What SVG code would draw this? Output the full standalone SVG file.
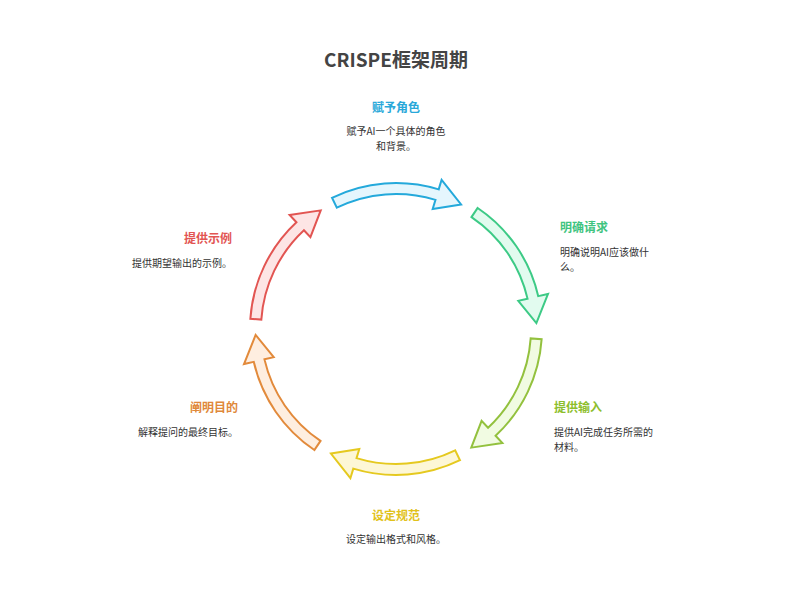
<svg xmlns="http://www.w3.org/2000/svg" xmlns:xlink="http://www.w3.org/1999/xlink" width="792" height="612" viewBox="0 0 792 612">
<style>
text{font-family:"Noto Sans CJK SC","Noto Sans",sans-serif;}
.main{font-size:19px;font-weight:bold;fill:#444;}
.t{font-size:12px;font-weight:bold;}
.d{font-size:10px;fill:#333;}
.arr{stroke-width:2;stroke-linejoin:miter;}
</style>
<defs>
<path id="arrow" d="M -64.00,-131.22 A 146 146 0 0 1 42.69,-139.62 L 45.61,-149.18 L 65.09,-124.51 L 36.69,-120.01 L 39.47,-129.10 A 135 135 0 0 0 -59.18,-121.34 Z"/>
</defs>
<rect width="792" height="612" fill="#fff"/>
<text class="main" x="396" y="67" text-anchor="middle">CRISPE框架周期</text>
<g id="connectors">
<use xlink:href="#arrow" class="arr" transform="translate(396 329) rotate(0)" fill="#E5F6FD" stroke="#24A9DB"/>
<use xlink:href="#arrow" class="arr" transform="translate(396 329) rotate(60)" fill="#E2FBEF" stroke="#3DCA86"/>
<use xlink:href="#arrow" class="arr" transform="translate(396 329) rotate(120)" fill="#F1FBE2" stroke="#93C13E"/>
<use xlink:href="#arrow" class="arr" transform="translate(396 329) rotate(180)" fill="#FDF7D6" stroke="#E5C91F"/>
<use xlink:href="#arrow" class="arr" transform="translate(396 329) rotate(240)" fill="#FEEEE0" stroke="#E28A3B"/>
<use xlink:href="#arrow" class="arr" transform="translate(396 329) rotate(300)" fill="#FDE5E5" stroke="#E25552"/>
</g>
<g id="node-role">
<text class="t" x="396" y="112" text-anchor="middle" fill="#29A8D9">赋予角色</text>
<text class="d" x="396" y="135" text-anchor="middle">赋予AI一个具体的角色</text>
<text class="d" x="396" y="149.5" text-anchor="middle">和背景。</text>
</g>
<g id="node-request">
<text class="t" x="560" y="232" fill="#3FC480">明确请求</text>
<text class="d" x="560" y="256">明确说明AI应该做什</text>
<text class="d" x="560" y="270.5">么。</text>
</g>
<g id="node-input">
<text class="t" x="554" y="412" fill="#8DBE2C">提供输入</text>
<text class="d" x="554" y="436">提供AI完成任务所需的</text>
<text class="d" x="554" y="450.5">材料。</text>
</g>
<g id="node-spec">
<text class="t" x="396" y="520" text-anchor="middle" fill="#E1C21B">设定规范</text>
<text class="d" x="396" y="543" text-anchor="middle">设定输出格式和风格。</text>
</g>
<g id="node-goal">
<text class="t" x="238" y="412" text-anchor="end" fill="#E0883A">阐明目的</text>
<text class="d" x="238" y="436" text-anchor="end">解释提问的最终目标。</text>
</g>
<g id="node-example">
<text class="t" x="232" y="243" text-anchor="end" fill="#E25552">提供示例</text>
<text class="d" x="232" y="267" text-anchor="end">提供期望输出的示例。</text>
</g>
</svg>
